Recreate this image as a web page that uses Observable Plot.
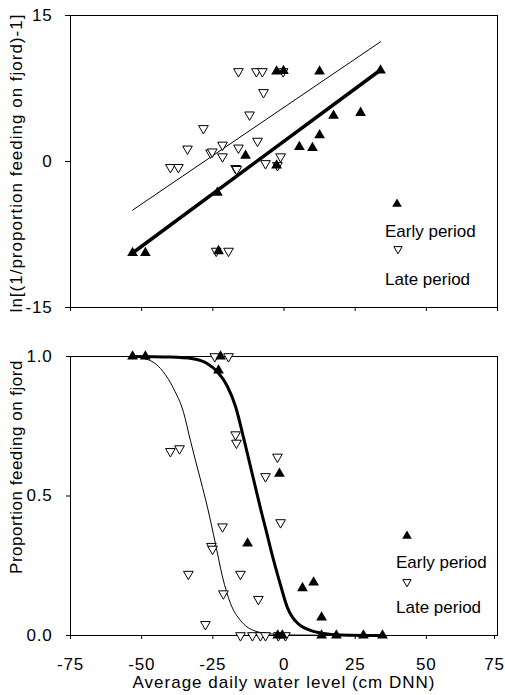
<!DOCTYPE html>
<html><head><meta charset="utf-8">
<script src="https://cdn.jsdelivr.net/npm/d3@7"></script>
<script src="https://cdn.jsdelivr.net/npm/@observablehq/plot@0.6"></script>
<style>
body{margin:0;background:#fff;}
#wrap{position:relative;width:505px;height:695px;overflow:hidden;font-family:"Liberation Sans",Arial,sans-serif;color:#000;}
#wrap svg.plot{position:absolute;left:0;}
.t{position:absolute;white-space:nowrap;font-size:17px;line-height:17px;}
.mk{position:absolute;overflow:visible;}
</style></head><body><div id="wrap"></div>
<script>
// ---- data ----
const xTicks = [-75, -50, -25, 0, 25, 50, 75];
const lnTicks = [-15, 0, 15];
const propTicks = [0, 0.5, 1];

// top panel: ln[(1/p)-1] vs water level
const earlyTopX = [-53.2, -48.7, -23.0, -23.4, -13.5, -2.6, 5.4, 10.0, 12.5, 17.4, 26.9, -2.6, -0.2, 12.5, 33.9];
const earlyTopY = [-9.4, -9.4, -9.2, -3.2, 0.6, -0.4, 1.5, 1.4, 2.7, 4.7, 5.0, 9.25, 9.3, 9.25, 9.35];
const lateTopX = [-23.8, -19.5, -39.9, -37.1, -17.0, -16.6, -6.5, -2.3, -21.6, -1.2, -25.8, -25.2, -33.9, -16.0, -21.6, -9.3, -28.3, -12.1, -7.2, -16.0, -9.7, -7.6, -0.3];
const lateTopY = [-9.2, -9.2, -0.6, -0.6, -0.7, -0.8, -0.2, -0.4, 0.5, 0.5, 0.9, 1.0, 1.3, 1.4, 1.7, 2.1, 3.4, 4.8, 7.1, 9.25, 9.25, 9.25, 9.25];
const earlyFitX = [-53.2, 33.9];
const earlyFitY = [-9.4, 9.4];
const lateFitX = [-53.2, 33.9];
const lateFitY = [-5.0, 12.3];

// bottom panel: proportion feeding on fjord
const earlyBotX = [-53.2, -48.7, -22.3, -23.0, -12.8, -1.6, 6.5, 10.4, 13.2, -2.2, -0.6, 13.2, 18.4, 27.9, 34.6];
const earlyBotP = [1, 1, 1, 0.95, 0.33, 0.58, 0.17, 0.19, 0.065, 0, 0, 0, 0, 0, 0];
const lateBotX = [-24.3, -19.5, -39.9, -36.7, -17.0, -16.7, -2.3, -6.5, -21.6, -1.2, -25.5, -25.1, -33.6, -15.3, -21.3, -9.0, -27.6, -15.3, -11.1, -8.3, -6.5, -2.0, 0.5];
const lateBotP = [1, 1, 0.66, 0.67, 0.72, 0.69, 0.64, 0.57, 0.39, 0.405, 0.32, 0.31, 0.22, 0.22, 0.15, 0.13, 0.04, 0, 0, 0, 0, 0, 0];
const earlyCurveX = [-53.2, -40, -32, -27, -23.4, -20, -17, -14, -12, -10, -8, -6, -4.8, -3, -1.2, 1.2, 3, 4.7, 9.3, 14, 20, 34.6];
const earlyCurveP = [1, 0.998, 0.992, 0.975, 0.945, 0.895, 0.82, 0.70, 0.615, 0.53, 0.445, 0.365, 0.315, 0.245, 0.18, 0.10, 0.065, 0.045, 0.018, 0.007, 0.002, 0];
const lateCurveX = [-53.2, -49.3, -46, -43.4, -38.8, -35.3, -32.9, -30.4, -28.6, -26.9, -24.1, -21.6, -18.8, -15.3, -10.7, -5.8, 0, 34.6];
const lateCurveP = [1, 0.993, 0.98, 0.957, 0.885, 0.80, 0.70, 0.60, 0.53, 0.46, 0.33, 0.21, 0.115, 0.054, 0.018, 0.007, 0.002, 0];

const zip = (xs, ys) => xs.map((x, i) => ({x, y: ys[i]}));
const earlyTop = zip(earlyTopX, earlyTopY), lateTop = zip(lateTopX, lateTopY);
const earlyFit = zip(earlyFitX, earlyFitY), lateFit = zip(lateFitX, lateFitY);
const earlyBot = zip(earlyBotX, earlyBotP), lateBot = zip(lateBotX, lateBotP);
const earlyCurve = zip(earlyCurveX, earlyCurveP), lateCurve = zip(lateCurveX, lateCurveP);

const wrap = document.getElementById("wrap");
const baseStyle = {fontFamily: "'Liberation Sans', Arial, sans-serif", fontSize: "17px", color: "#000", background: "transparent", overflow: "visible", letterSpacing: "0.8px"};

const lateDots = d => Plot.dot(d, {x: "x", y: "y", symbol: "triangle", rotate: 180, r: 3.6, fill: "#fff", stroke: "#000", strokeWidth: 1});
const earlyDots = d => Plot.dot(d, {x: "x", y: "y", symbol: "triangle", r: 4, fill: "#000", stroke: "none"});

const topPlot = Plot.plot({
  width: 505, height: 330,
  marginLeft: 70, marginRight: 8, marginTop: 15, marginBottom: 23,
  style: baseStyle,
  x: {domain: [-75, 75]},
  y: {domain: [-15, 15]},
  marks: [
    Plot.frame({stroke: "#000", strokeWidth: 1}),
    Plot.axisX({ticks: xTicks, tickSize: 4, tickFormat: () => "", label: null}),
    Plot.axisY({ticks: lnTicks, tickSize: 5, tickPadding: 13, tickFormat: d => String(d), label: null}),
    Plot.line(lateFit, {x: "x", y: "y", stroke: "#000", strokeWidth: 1}),
    Plot.line(earlyFit, {x: "x", y: "y", stroke: "#000", strokeWidth: 3.5}),
    lateDots(lateTop),
    earlyDots(earlyTop)
  ]
});
topPlot.classList.add("plot");
topPlot.style.top = "0px";
wrap.appendChild(topPlot);

const lastTick = xTicks[xTicks.length - 1];
const botPlot = Plot.plot({
  width: 505, height: 365,
  marginLeft: 70, marginRight: 8, marginTop: 26, marginBottom: 60,
  style: baseStyle,
  x: {domain: [-75, 75]},
  y: {domain: [0, 1]},
  marks: [
    Plot.frame({stroke: "#000", strokeWidth: 1}),
    Plot.axisX({ticks: xTicks.slice(0, -1), tickSize: 4, tickPadding: 18, tickFormat: d => String(d), label: null}),
    Plot.axisX({ticks: [lastTick], tickSize: 4, tickPadding: 18, tickFormat: d => String(d), label: null, dx: -3}),
    Plot.axisY({ticks: propTicks, tickSize: 4, tickPadding: 14, tickFormat: d => d.toFixed(1), label: null}),
    Plot.line(lateCurve, {x: "x", y: "y", stroke: "#000", strokeWidth: 1, curve: "monotone-x"}),
    Plot.line(earlyCurve, {x: "x", y: "y", stroke: "#000", strokeWidth: 3, curve: "monotone-x"}),
    lateDots(lateBot),
    earlyDots(earlyBot)
  ]
});
botPlot.classList.add("plot");
botPlot.style.top = "330px";
wrap.appendChild(botPlot);

// ---- text overlays ----
function text(str, left, cy, opts = {}) {
  const d = document.createElement("div");
  d.className = "t";
  d.textContent = str;
  d.style.left = left + "px";
  d.style.top = (cy - 8.5) + "px";
  if (opts.ls) d.style.letterSpacing = opts.ls;
  if (opts.center) d.style.transform = "translateX(-50%)";
  if (opts.rotate) {
    d.style.left = left + "px";
    d.style.top = cy + "px";
    d.style.transform = "translate(-50%,-50%) rotate(-90deg)";
  }
  wrap.appendChild(d);
}
function marker(kind, cx, cy) {
  const ns = "http://www.w3.org/2000/svg";
  const s = document.createElementNS(ns, "svg");
  s.setAttribute("class", "mk");
  s.setAttribute("width", 14); s.setAttribute("height", 14);
  s.style.left = (cx - 7) + "px"; s.style.top = (cy - 7) + "px";
  const p = document.createElementNS(ns, "path");
  const sym = d3.symbol(d3.symbolTriangle, kind === "early" ? 40 : 30)();
  p.setAttribute("d", sym);
  p.setAttribute("transform", "translate(7,7)" + (kind === "early" ? "" : " rotate(180)"));
  p.setAttribute("fill", kind === "early" ? "#000" : "#fff");
  p.setAttribute("stroke", kind === "early" ? "none" : "#000");
  p.setAttribute("stroke-width", 1);
  s.appendChild(p);
  wrap.appendChild(s);
}

// legends
marker("early", 397, 204);
text("Early period", 385, 231);
marker("late", 398, 249);
text("Late period", 385, 279);
marker("early", 407, 536);
text("Early period", 396, 562);
marker("late", 407, 582);
text("Late period", 396, 607);

// axis titles
text("ln[(1/proportion feeding on fjord)-1]", 16, 163, {rotate: true, ls: "1px"});
text("Proportion feeding on fjord", 16, 467, {rotate: true, ls: "0.5px"});
text("Average daily water level (cm DNN)", 284, 682, {center: true, ls: "1px"});
</script></body></html>
